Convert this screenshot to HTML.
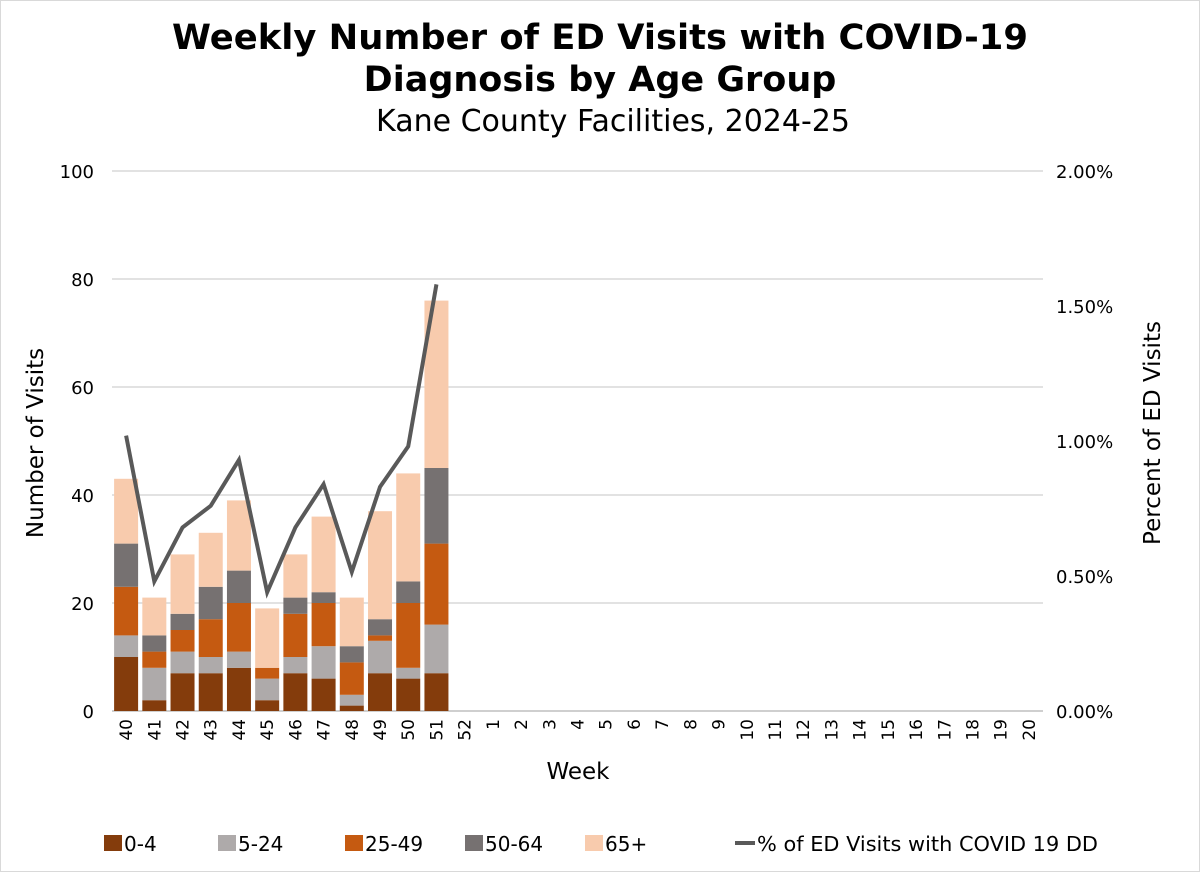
<!DOCTYPE html>
<html><head><meta charset="utf-8"><style>
body{margin:0;background:#fff}
svg{display:block;font-family:"DejaVu Sans","Liberation Sans",sans-serif}
</style></head><body>
<svg id="c" width="1200" height="872" viewBox="0 0 1200 872">
<rect x="0.5" y="0.5" width="1199" height="871" fill="#fff" stroke="#d9d9d9"/>
<text x="600" y="49" text-anchor="middle" font-size="35" font-weight="bold" textLength="856" lengthAdjust="spacingAndGlyphs">Weekly Number of ED Visits with COVID-19</text>
<text x="600" y="91" text-anchor="middle" font-size="35" font-weight="bold">Diagnosis by Age Group</text>
<text x="613" y="131" text-anchor="middle" font-size="30">Kane County Facilities, 2024-25</text>
<text transform="translate(43,443) rotate(-90)" text-anchor="middle" font-size="23">Number of Visits</text>
<text transform="translate(1160,433) rotate(-90)" text-anchor="middle" font-size="23">Percent of ED Visits</text>
<text x="578" y="779" text-anchor="middle" font-size="23">Week</text>
<g id="grid"></g><g id="bars"></g><g id="line"></g><g id="ticks"></g><g id="legend"></g>
</svg>
<script>
const weeks=["40","41","42","43","44","45","46","47","48","49","50","51","52","1","2","3","4","5","6","7","8","9","10","11","12","13","14","15","16","17","18","19","20"];
const s0_4=[10,2,7,7,8,2,7,6,1,7,6,7];
const s5_24=[4,6,4,3,3,4,3,6,2,6,2,9];
const s25_49=[9,3,4,7,9,2,8,8,6,1,12,15];
const s50_64=[8,3,3,6,6,0,3,2,3,3,4,14];
const s65=[12,7,11,10,13,11,8,14,9,20,20,31];
const pct=[1.02,0.48,0.68,0.76,0.93,0.44,0.68,0.84,0.515,0.83,0.98,1.58];
const leftTicks=[0,20,40,60,80,100];
const rightTicks=["0.00%","0.50%","1.00%","1.50%","2.00%"];
const NS="http://www.w3.org/2000/svg";
const X0=112,X1=1043,Y0=711,Y1=171;
const bw=(X1-X0)/weeks.length;
const y=v=>Y0-(v/100)*(Y0-Y1);
const y2=v=>Y0-(v/2)*(Y0-Y1);
const xc=i=>X0+bw*(i+0.5);
function mk(t,a,p){const e=document.createElementNS(NS,t);for(const k in a)e.setAttribute(k,a[k]);p.appendChild(e);return e;}
const grid=document.getElementById('grid'),ticks=document.getElementById('ticks');
leftTicks.forEach((v,i)=>{
 const l=mk('line',{x1:X0,x2:X1,y1:y(v),y2:y(v),stroke:v===0?'#bfbfbf':'#d9d9d9','stroke-width':1.5},grid);
 
 
 const t=mk('text',{x:94,y:y(v)+7,'text-anchor':'end','font-size':18},ticks);t.textContent=v;
 
 
});
rightTicks.forEach((v,i)=>{
 const t=mk('text',{x:1056,y:y2(i*0.5)+7,'font-size':18},ticks);t.textContent=v;
 
 
});
weeks.forEach((w,i)=>{
 const t=mk('text',{transform:`translate(${xc(i)+6},719) rotate(-90)`,'text-anchor':'end','font-size':17},ticks);t.textContent=w;
 
 
});
const series=[[s0_4,'#843c0c','0-4'],[s5_24,'#aeaaaa','5-24'],[s25_49,'#c55a11','25-49'],[s50_64,'#767171','50-64'],[s65,'#f8cbad','65+']];
const bars=document.getElementById('bars');
s0_4.forEach((_,i)=>{
 let cum=0;
 series.forEach(([arr,col,nm])=>{
  const v=arr[i];if(!v)return;
  const r=mk('rect',{x:xc(i)-12,y:y(cum+v),width:24,height:y(cum)-y(cum+v),fill:col},bars);
  
  
  cum+=v;
 });
});
const pl=mk('polyline',{points:pct.map((p,i)=>xc(i)+','+y2(p)).join(' '),fill:'none',stroke:'#595959','stroke-width':4,'stroke-linejoin':'miter'},document.getElementById('line'));


const lg=document.getElementById('legend');
const lx=[104,218,345,465,585];
series.forEach(([a,col,nm],i)=>{
 const g=mk('g',{},lg);
 
 
 mk('rect',{x:lx[i],y:835,width:18,height:16,fill:col},g);
 const t=mk('text',{x:lx[i]+20,y:851,'font-size':20},g);t.textContent=nm;
});
const g=mk('g',{},lg);


mk('line',{x1:735,x2:755,y1:843,y2:843,stroke:'#595959','stroke-width':4},g);
const t=mk('text',{x:757,y:851,'font-size':20,textLength:341,lengthAdjust:'spacingAndGlyphs'},g);t.textContent='% of ED Visits with COVID 19 DD';
</script>
</body></html>
